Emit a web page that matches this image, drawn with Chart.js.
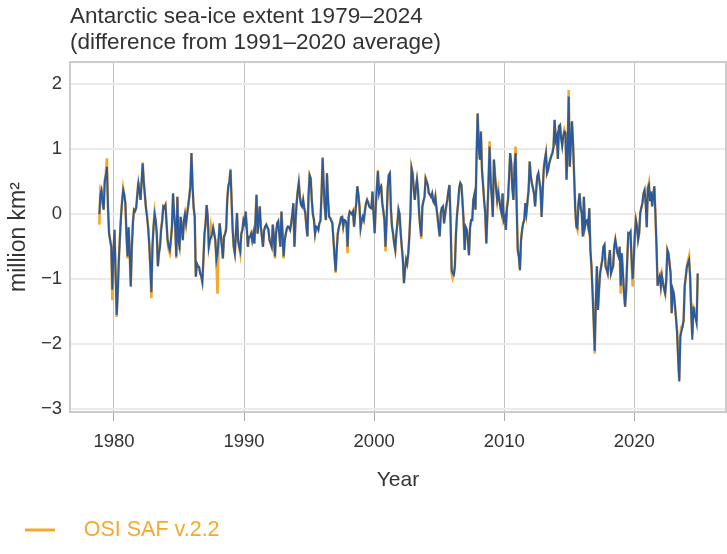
<!DOCTYPE html>
<html>
<head>
<meta charset="utf-8">
<script src="https://cdn.jsdelivr.net/npm/chart.js@4.4.1/dist/chart.umd.min.js"></script>
<style>
html,body{margin:0;padding:0;background:#fff;}
#wrap{width:727px;height:554px;}
</style>
</head>
<body>
<div id="wrap"><canvas id="c" width="727" height="554"></canvas></div>
<script>
// ---- data ----
const titleLines = ['Antarctic sea-ice extent 1979\u20132024', '(difference from 1991\u20132020 average)'];
const xTitle = 'Year';
const yTitle = 'million km\u00B2';
const legendLabel = 'OSI SAF v.2.2';
const startYear = 1978;
const startMonth = 11; // first value is November 1978, monthly after that
const xTickYears = [1980, 1990, 2000, 2010, 2020];
const yTickValues = [-3, -2, -1, 0, 1, 2];

// second (blue) series, monthly anomalies, million km²
const otherValues = [
  0.0, 0.3,
  0.37, 0.19, 0.07, 0.5, 0.6, 0.73, 0.1, -0.3, -0.4, -0.5, -1.16, -0.6,
  -0.24, -0.9, -1.55, -1.2, -0.7, -0.35, -0.03, 0.2, 0.37, 0.3, 0.17, -0.3,
  -0.65, -0.2, -0.6, -1.11, -0.5, -0.14, 0.07, 0.05, 0.1, 0.3, 0.48, 0.35,
  0.22, 0.5, 0.78, 0.5, 0.3, 0.1, -0.05, -0.2, -0.45, -0.8, -1.2, -0.5,
  -0.19, 0.0, -0.1, -0.3, -0.8, -0.6, -0.5, -0.25, -0.1, 0.12, 0.1, 0.14,
  -0.14, -0.4, -0.5, -0.55, -0.4, -0.19, 0.32, 0.0, -0.19, -0.65, 0.27, -0.4,
  -0.5, -0.04, -0.2, -0.4, -0.1, 0.0, -0.14, 0.0, 0.12, 0.27, 0.43, 0.94,
  0.43, 0.1, -0.04, -0.96, -0.76, -0.8, -0.81, -0.91, -0.95, -1.04, -0.7, -0.3,
  -0.14, 0.14, -0.04, -0.5, -0.4, -0.35, -0.3, -0.21, -0.3, -0.4, -0.7, -0.6,
  -0.4, -0.14, -0.3, -0.5, -0.68, -0.35, -0.3, -0.24, 0.22, 0.43, 0.5, 0.68,
  0.22, -0.24, -0.5, -0.6, -0.29, 0.02, -0.4, -0.5, -0.57, -0.3, -0.24, -0.09,
  -0.14, 0.04, -0.2, -0.5, -0.35, -0.35, -0.3, -0.4, -0.3, -0.45, -0.1, 0.3,
  -0.3, -0.1, 0.12, -0.2, -0.35, -0.5, -0.25, -0.19, -0.16, -0.2, -0.24, -0.4,
  -0.45, -0.5, -0.16, -0.34, -0.65, -0.3, -0.14, -0.11, -0.3, -0.5, 0.04, -0.29,
  -0.65, -0.4, -0.3, -0.22, -0.19, -0.2, -0.24, -0.14, 0.0, 0.17, -0.5, -0.1,
  0.17, 0.35, 0.48, 0.27, 0.15, 0.12, 0.22, 0.1, 0.02, -0.19, -0.34, 0.3,
  0.6, 0.55, 0.22, 0.0, -0.09, -0.3, -0.19, -0.2, -0.24, -0.14, -0.1, 0.32,
  0.86, 0.43, 0.1, -0.09, 0.63, 0.22, -0.04, -0.06, -0.1, -0.14, -0.4, -0.65,
  -0.88, -0.55, -0.29, -0.2, -0.14, -0.05, -0.04, -0.19, -0.09, -0.1, -0.14, -0.5,
  -0.04, 0.04, 0.02, 0.0, 0.04, -0.19, 0.0, 0.17, 0.43, 0.3, 0.12, -0.21,
  -0.1, -0.04, -0.09, 0.05, 0.17, 0.22, 0.18, 0.12, 0.1, 0.09, 0.35, 0.0,
  -0.29, 0.12, 0.4, 0.66, 0.32, 0.4, 0.43, 0.17, 0.05, -0.09, -0.5, -0.09,
  0.4, 0.6, 0.63, 0.07, -0.19, -0.3, -0.45, -0.55, -0.3, -0.14, 0.07, 0.0,
  -0.29, -0.5, -0.7, -1.06, -0.85, -0.7, -0.76, -0.6, -0.34, 0.02, 0.71, 0.63,
  0.4, 0.22, 0.4, 0.53, 0.37, 0.02, -0.2, -0.34, 0.12, 0.2, 0.27, 0.55,
  0.5, 0.45, 0.32, 0.3, 0.27, 0.32, 0.2, 0.17, 0.27, 0.1, -0.04, -0.2,
  -0.34, 0.02, 0.1, 0.12, -0.14, 0.0, 0.12, 0.22, 0.35, 0.45, -0.09, -0.86,
  -0.91, -0.93, -0.8, -0.3, 0.0, 0.17, 0.4, 0.48, 0.45, 0.2, -0.09, -0.55,
  -0.2, -0.24, -0.4, -0.63, -0.2, -0.09, -0.09, 0.22, 0.3, 0.07, 0.9, 1.55,
  1.04, 0.84, 1.27, 0.68, 0.45, 0.2, 0.02, -0.45, 0.0, 0.5, 1.04, 0.5,
  0.27, -0.04, 0.84, 0.6, 0.4, 0.22, 0.33, 0.22, 0.1, 0.02, 0.32, -0.09,
  -0.04, -0.24, 0.1, 0.22, 0.58, 0.94, 0.78, 0.4, 0.22, 0.73, 0.94, 0.12,
  -0.55, -0.65, -0.86, -0.4, -0.24, -0.14, -0.09, 0.17, 0.02, 0.2, 0.37, 0.81,
  0.58, 0.48, 0.4, 0.32, 0.12, 0.37, 0.58, 0.63, 0.5, 0.37, -0.04, 0.37,
  0.7, 0.84, 0.94, 0.63, 0.68, 0.78, 0.84, 0.9, 0.94, 1.04, 1.45, 1.14,
  1.2, 0.85, 1.35, 1.37, 1.17, 1.04, 1.2, 1.27, 1.25, 0.53, 0.99, 1.81,
  0.73, 1.09, 1.43, 1.09, 0.6, 0.1, -0.19, -0.21, 0.17, 0.32, 0.1, 0.02,
  -0.34, 0.27, -0.19, -0.1, -0.09, -0.19, 0.09, -0.55, -0.8, -1.2, -1.63, -2.1,
  -1.37, -0.8, -1.47, -1.16, -0.9, -0.8, -0.7, -0.5, -0.47, -0.8, -0.85, -0.91,
  -0.7, -0.55, -0.91, -0.85, -0.8, -0.5, -0.39, -0.5, -0.6, -0.65, -0.5, -1.1,
  -0.6, -0.91, -1.2, -1.42, -1.16, -0.7, -0.29, -0.3, -0.27, -0.7, -1.0, -0.7,
  -0.3, -0.09, -0.19, -0.39, -0.29, 0.02, 0.1, 0.17, 0.32, 0.37, 0.17, -0.2,
  0.4, 0.45, 0.2, 0.35, 0.12, 0.3, 0.43, 0.0, -0.5, -1.1, -1.0, -0.95,
  -1.11, -0.95, -1.06, -1.15, -1.22, -1.01, -0.55, -0.6, -0.75, -0.91, -1.52, -1.16,
  -1.22, -1.4, -1.6, -1.83, -2.24, -2.57, -1.88, -1.8, -1.73, -1.63, -1.11, -0.96,
  -0.81, -0.75, -0.7, -0.96, -1.52, -1.93, -1.42, -1.52, -1.6, -1.68, -0.91
];

// OSI SAF v.2.2 (orange) series, monthly anomalies, million km²
const osisafValues = [
  -0.16, 0.4,
  0.37, 0.19, 0.07, 0.52, 0.62, 0.86, 0.1, -0.3, -0.4, -0.5, -1.32, -0.6,
  -0.24, -0.9, -1.58, -1.2, -0.7, -0.35, -0.03, 0.2, 0.4, 0.3, 0.17, -0.3,
  -0.68, -0.2, -0.6, -1.11, -0.5, -0.1, 0.07, 0.05, 0.1, 0.3, 0.5, 0.35,
  0.22, 0.5, 0.8, 0.5, 0.3, 0.1, 0.0, -0.2, -0.45, -0.8, -1.29, -0.5,
  -0.19, 0.03, -0.1, -0.3, -0.8, -0.6, -0.45, -0.2, -0.1, 0.12, 0.1, 0.14,
  -0.14, -0.4, -0.55, -0.6, -0.4, -0.19, 0.32, 0.0, -0.19, -0.68, 0.27, -0.4,
  -0.55, -0.04, -0.2, -0.4, -0.1, 0.0, -0.14, 0.02, 0.15, 0.27, 0.43, 0.94,
  0.43, 0.1, -0.04, -0.96, -0.76, -0.8, -0.81, -0.91, -0.95, -1.04, -0.7, -0.3,
  -0.14, 0.14, -0.04, -0.5, -0.4, -0.19, -0.3, -0.21, -0.3, -0.4, -0.7, -1.22,
  -0.4, -0.14, -0.3, -0.45, -0.68, -0.35, -0.3, -0.2, 0.22, 0.43, 0.5, 0.7,
  0.22, -0.24, -0.5, -0.6, -0.29, 0.02, -0.4, -0.5, -0.6, -0.3, -0.24, -0.09,
  -0.14, 0.04, -0.2, -0.5, -0.35, -0.35, -0.3, -0.4, -0.3, -0.45, -0.1, 0.3,
  -0.3, -0.1, 0.12, -0.2, -0.35, -0.5, -0.25, -0.19, -0.16, -0.2, -0.24, -0.4,
  -0.45, -0.5, -0.16, -0.34, -0.68, -0.3, -0.14, -0.11, -0.3, -0.5, 0.04, -0.29,
  -0.68, -0.4, -0.3, -0.22, -0.19, -0.2, -0.24, -0.14, 0.0, 0.17, -0.5, -0.1,
  0.17, 0.35, 0.48, 0.27, 0.15, 0.12, 0.22, 0.1, 0.02, -0.19, -0.34, 0.3,
  0.6, 0.55, 0.22, 0.0, -0.09, -0.3, -0.19, -0.2, -0.24, -0.14, -0.1, 0.32,
  0.88, 0.43, 0.1, -0.09, 0.63, 0.22, -0.04, -0.06, -0.1, -0.14, -0.4, -0.65,
  -0.9, -0.55, -0.29, -0.2, -0.14, -0.05, -0.04, -0.19, -0.09, -0.1, -0.14, -0.6,
  -0.04, 0.04, 0.02, 0.0, 0.04, -0.19, 0.0, 0.17, 0.43, 0.3, 0.12, -0.21,
  -0.1, -0.04, -0.09, 0.05, 0.17, 0.22, 0.18, 0.12, 0.1, 0.09, 0.35, 0.0,
  -0.29, 0.12, 0.4, 0.68, 0.32, 0.45, 0.43, 0.17, 0.05, -0.09, -0.57, -0.09,
  0.4, 0.6, 0.63, 0.07, -0.19, -0.3, -0.45, -0.55, -0.3, -0.14, 0.07, 0.0,
  -0.29, -0.5, -0.7, -1.06, -0.85, -0.7, -0.76, -0.6, -0.34, 0.02, 0.71, 0.63,
  0.4, 0.22, 0.4, 0.53, 0.37, 0.02, -0.2, -0.38, 0.12, 0.2, 0.27, 0.55,
  0.5, 0.45, 0.32, 0.3, 0.27, 0.32, 0.2, 0.17, 0.27, 0.1, -0.04, -0.2,
  -0.34, 0.02, 0.1, 0.12, -0.14, 0.0, 0.12, 0.22, 0.35, 0.45, -0.09, -0.9,
  -0.98, -0.93, -0.8, -0.3, 0.0, 0.17, 0.4, 0.48, 0.45, 0.2, -0.09, -0.55,
  -0.2, -0.24, -0.4, -0.63, -0.2, -0.09, -0.09, 0.22, 0.3, 0.07, 0.9, 1.55,
  1.04, 0.84, 1.27, 0.68, 0.45, 0.2, 0.02, -0.45, 0.0, 0.5, 1.12, 0.5,
  0.27, -0.04, 0.84, 0.6, 0.4, 0.22, 0.37, 0.22, 0.1, 0.02, 0.32, -0.09,
  -0.04, -0.24, 0.1, 0.22, 0.58, 0.94, 0.78, 0.4, 0.22, 0.73, 1.04, 0.12,
  -0.55, -0.65, -0.86, -0.4, -0.24, -0.14, -0.09, 0.17, 0.02, 0.2, 0.37, 0.81,
  0.58, 0.48, 0.4, 0.32, 0.12, 0.37, 0.58, 0.63, 0.5, 0.37, -0.04, 0.37,
  0.7, 0.84, 0.94, 0.63, 0.68, 0.78, 0.84, 0.9, 0.94, 1.04, 1.45, 1.14,
  1.2, 0.85, 1.35, 1.37, 1.17, 1.09, 1.2, 1.3, 1.25, 0.53, 0.99, 1.91,
  0.73, 1.09, 1.43, 1.09, 0.6, 0.1, -0.19, -0.24, 0.17, 0.32, 0.1, 0.02,
  -0.34, 0.27, -0.19, -0.1, -0.09, -0.19, 0.09, -0.55, -0.8, -1.2, -1.63, -2.14,
  -1.37, -0.8, -1.47, -1.16, -0.9, -0.8, -0.7, -0.5, -0.47, -0.8, -0.85, -0.91,
  -0.7, -0.55, -0.91, -0.85, -0.8, -0.5, -0.39, -0.5, -0.6, -0.65, -0.5, -1.22,
  -0.6, -0.91, -1.2, -1.42, -1.16, -0.7, -0.29, -0.3, -0.27, -0.7, -1.11, -0.7,
  -0.3, -0.09, -0.19, -0.39, -0.29, 0.02, 0.1, 0.17, 0.32, 0.37, 0.17, -0.2,
  0.4, 0.48, 0.2, 0.35, 0.12, 0.3, 0.43, 0.0, -0.5, -1.1, -1.0, -0.95,
  -1.11, -0.95, -1.06, -1.15, -1.22, -1.01, -0.55, -0.6, -0.75, -0.91, -1.52, -1.16,
  -1.22, -1.4, -1.6, -1.8, -2.2, -2.55, -1.85, -1.73, -1.73, -1.63, -1.11, -0.96,
  -0.81, -0.72, -0.65, -0.96, -1.45, -1.85, -1.42, -1.45, -1.55, -1.65, -0.91
];

// ---- styles ----
const BLUE = '#2a5aa0';
const ORANGE = '#f5a82e';
const TEXT = '#333333';
const FONT = "'Liberation Sans', Arial, Helvetica, sans-serif";

function monthlyPoints(values) {
  return values.map((v, i) => ({ x: startYear + (startMonth - 1 + i + 0.5) / 12, y: v }));
}

// legend marker: short orange line with a blank margin on the left
const legendMarker = document.createElement('canvas');
legendMarker.width = 63; legendMarker.height = 4;
(function () {
  const g = legendMarker.getContext('2d');
  g.fillStyle = ORANGE;
  g.fillRect(15, 0.5, 30, 3);
})();

const framePlugin = {
  id: 'frame',
  beforeDatasetsDraw(chart) {
    const { ctx, chartArea: a } = chart;
    ctx.save();
    ctx.strokeStyle = '#cccccc';
    ctx.lineWidth = 2;
    ctx.strokeRect(a.left, a.top, a.right - a.left, a.bottom - a.top);
    ctx.restore();
  }
};

Chart.defaults.font.family = FONT;
Chart.defaults.color = TEXT;

new Chart(document.getElementById('c'), {
  type: 'line',
  data: {
    datasets: [
      { label: 'Second series', data: monthlyPoints(otherValues), borderColor: BLUE, borderWidth: 2,
        pointRadius: 0, tension: 0, order: 0, fill: false },
      { label: legendLabel, data: monthlyPoints(osisafValues), borderColor: ORANGE, borderWidth: 2.6,
        pointRadius: 0, tension: 0, order: 1, fill: false }
    ]
  },
  options: {
    responsive: false,
    animation: false,
    events: [],
    layout: { padding: { left: 0, right: 1, top: 0, bottom: 3.25 } },
    scales: {
      x: {
        type: 'linear',
        min: 1976.62,
        max: 2027.05,
        afterBuildTicks: (axis) => { axis.ticks = xTickYears.map(v => ({ value: v })); },
        afterFit: (s) => { s.height = 97.25; },
        ticks: { callback: (v) => String(v), font: { size: 18.5 }, color: TEXT, padding: 10, maxRotation: 0, autoSkip: false },
        grid: { color: '#c2c2c2', lineWidth: 1, tickLength: 9, tickColor: '#a8a8a8' },
        border: { display: false },
        title: { display: true, text: xTitle, font: { size: 21 }, color: TEXT, padding: { top: 0, bottom: 16.6 } }
      },
      y: {
        min: -3.04,
        max: 2.34,
        afterBuildTicks: (axis) => { axis.ticks = yTickValues.map(v => ({ value: v })); },
        afterFit: (s) => { s.width = 70; },
        ticks: { callback: (v) => (v < 0 ? '\u2212' + Math.abs(v) : String(v)), font: { size: 18.5 }, color: TEXT, padding: 8 },
        grid: { color: '#ebebeb', lineWidth: 2, drawTicks: false },
        border: { display: false },
        title: { display: true, text: yTitle, font: { size: 23 }, color: TEXT, padding: { top: 5, bottom: 0 } }
      }
    },
    plugins: {
      title: {
        display: true,
        text: titleLines,
        align: 'start',
        fullSize: false,
        color: TEXT,
        font: { size: 22.5, weight: 'normal', lineHeight: 1.156 },
        padding: { top: 4, bottom: 6 }
      },
      legend: {
        display: true,
        position: 'bottom',
        align: 'start',
        labels: {
          usePointStyle: true,
          pointStyleWidth: 63,
          padding: 10,
          font: { size: 21.5 },
          color: ORANGE,
          generateLabels: () => [{
            text: legendLabel, pointStyle: legendMarker, fontColor: ORANGE,
            fillStyle: ORANGE, strokeStyle: ORANGE, lineWidth: 0, hidden: false, datasetIndex: 1
          }]
        }
      },
      tooltip: { enabled: false }
    }
  },
  plugins: [framePlugin]
});
</script>
</body>
</html>
